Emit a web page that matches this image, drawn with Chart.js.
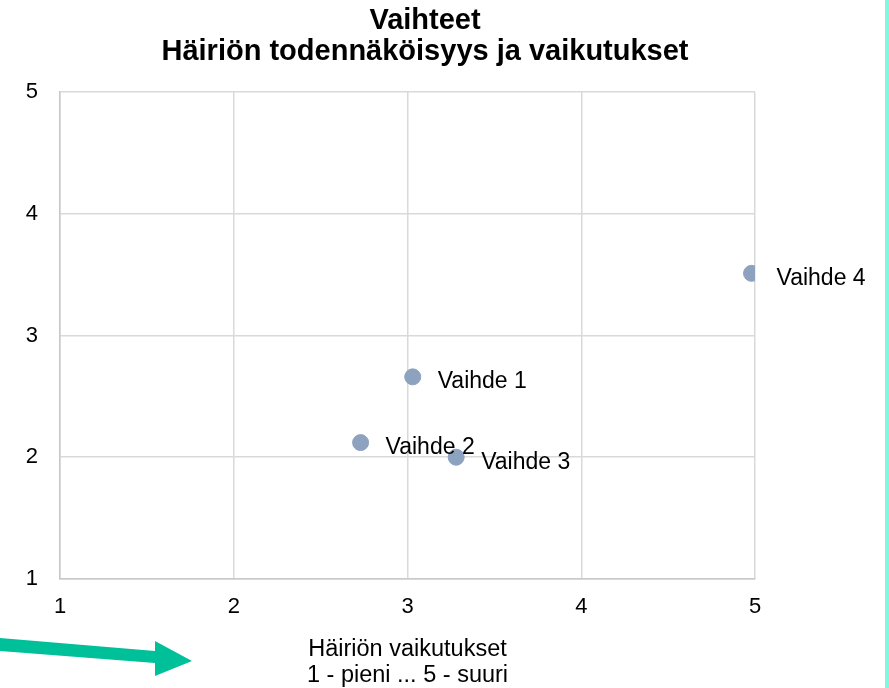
<!DOCTYPE html>
<html>
<head>
<meta charset="utf-8">
<script src="https://cdn.jsdelivr.net/npm/chart.js@4.4.0/dist/chart.umd.min.js"></script>
<style>
body { margin: 0; background: #fff; }
#wrap { position: relative; width: 889px; height: 688px; }
#edge { position: absolute; left: 885px; top: 0; width: 4px; height: 688px; background: #80f8e0; }
#arrow { position: absolute; left: 0; top: 0; }
</style>
</head>
<body>
<div id="wrap">
<canvas id="riskChart" width="889" height="688"></canvas>
<svg id="arrow" width="889" height="688"><polygon points="0,638 155,651 155,641 192,661 155,676 155,663 0,651" fill="#00c09a"/></svg>
<div id="edge"></div>
</div>
<script>
var names = ['Vaihde 1', 'Vaihde 2', 'Vaihde 3', 'Vaihde 4'];
var impact = [3.03, 2.73, 3.28, 4.98];
var probability = [2.66, 2.12, 2.0, 3.51];
var titleLines = ['Vaihteet', 'Häiriön todennäköisyys ja vaikutukset'];
var xTitleLines = ['Häiriön vaikutukset', '1 - pieni ... 5 - suuri'];

var font = '"Liberation Sans", Arial, sans-serif';

var points = names.map(function (n, i) {
    return { x: impact[i], y: probability[i] };
});

// name next to each point
var pointLabels = {
    id: 'pointLabels',
    afterDatasetsDraw: function (chart) {
        var ctx = chart.ctx;
        var meta = chart.getDatasetMeta(0);
        ctx.save();
        ctx.font = '23px ' + font;
        ctx.fillStyle = '#000';
        ctx.textBaseline = 'middle';
        meta.data.forEach(function (pt, i) {
            ctx.fillText(names[i], pt.x + 25, pt.y + 5);
        });
        ctx.restore();
    }
};

var config = {
    type: 'scatter',
    data: {
        datasets: [{
            label: 'Vaihteet',
            data: points,
            backgroundColor: '#8da2be',
            borderColor: '#8da2be',
            pointRadius: 8,
            pointHoverRadius: 8,
            xAxisID: 'x',
            yAxisID: 'y'
        }]
    },
    options: {
        responsive: false,
        animation: false,
        layout: { padding: { left: 0, right: 39, top: 0, bottom: 0 } },
        plugins: {
            legend: { display: false },
            tooltip: { enabled: false },
            title: {
                display: true,
                text: titleLines,
                color: '#000',
                font: { family: font, size: 29, weight: 'bold', lineHeight: 1.05 },
                padding: { top: 6, bottom: 25 }
            }
        },
        scales: {
            x: {
                type: 'linear',
                min: 1,
                max: 5,
                ticks: { stepSize: 1, color: '#000', padding: 15, font: { family: font, size: 22 } },
                grid: { color: '#d9d9d9', lineWidth: 1.5, drawTicks: false },
                border: { color: '#c8c8c8', width: 1.5 },
                title: {
                    display: true,
                    text: xTitleLines,
                    color: '#000',
                    font: { family: font, size: 23.5, lineHeight: 1.1 },
                    padding: { top: 0, bottom: 0 }
                },
                afterFit: function (s) { s.height = 109; }
            },
            y: {
                type: 'linear',
                min: 1,
                max: 5,
                ticks: { stepSize: 1, color: '#000', padding: 22, font: { family: font, size: 22 } },
                grid: { color: '#d9d9d9', lineWidth: 1.5, drawTicks: false },
                border: { color: '#c8c8c8', width: 1.5 },
                afterFit: function (s) { s.width = 60; }
            },
            yPad: {
                type: 'linear',
                position: 'right',
                grid: { display: false },
                border: { display: false },
                ticks: { display: false },
                afterFit: function (s) { s.width = 95; }
            }
        }
    },
    plugins: [pointLabels]
};

var riskChart = new Chart(document.getElementById('riskChart'), config);
</script>
</body>
</html>
